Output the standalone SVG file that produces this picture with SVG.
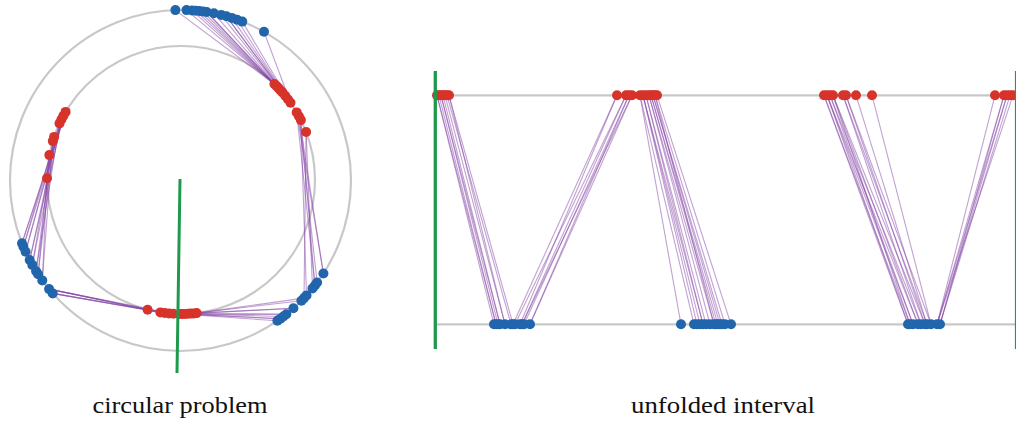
<svg xmlns="http://www.w3.org/2000/svg" width="1016" height="423" viewBox="0 0 1016 423">
<style>
.g{fill:none;stroke:#c8c8c8;stroke-width:2.2}
.c line{stroke:#8444a6;stroke-opacity:.5;stroke-width:1.1}
.r{fill:#d7332a}
.b{fill:#2166ac}
.gr{stroke:#1f9a4c;fill:none}
.t{font-family:"Liberation Serif","DejaVu Serif",serif;font-size:22.5px;fill:#111}
</style>
<rect width="1016" height="423" fill="#fff"/>
<g id="guides">
<circle class="g" cx="180.5" cy="180.5" r="170.5"/>
<circle class="g" cx="181" cy="180" r="134"/>
<line class="g" x1="436" y1="95.3" x2="1016" y2="95.3"/>
<line class="g" x1="436" y1="324.3" x2="1016" y2="324.3"/>
</g>
<g id="connectors" class="c">
<line x1="179.2" y1="314.0" x2="277.4" y2="320.8"/>
<line x1="182.1" y1="314.0" x2="280.4" y2="318.7"/>
<line x1="185.0" y1="313.9" x2="283.4" y2="316.5"/>
<line x1="187.9" y1="313.8" x2="286.3" y2="314.2"/>
<line x1="190.8" y1="313.6" x2="293.4" y2="308.3"/>
<line x1="193.7" y1="313.4" x2="301.4" y2="300.7"/>
<line x1="196.6" y1="313.1" x2="304.0" y2="298.1"/>
<line x1="196.6" y1="313.1" x2="293.4" y2="308.3"/>
<line x1="185.0" y1="313.9" x2="286.3" y2="314.2"/>
<line x1="179.2" y1="314.0" x2="280.4" y2="318.7"/>
<line x1="306.1" y1="132.0" x2="304.0" y2="298.1"/>
<line x1="306.1" y1="132.0" x2="312.5" y2="288.4"/>
<line x1="300.9" y1="120.1" x2="306.5" y2="295.4"/>
<line x1="300.9" y1="120.1" x2="314.9" y2="285.5"/>
<line x1="298.9" y1="116.2" x2="317.1" y2="282.5"/>
<line x1="298.9" y1="116.2" x2="323.4" y2="273.5"/>
<line x1="296.7" y1="112.4" x2="314.9" y2="285.5"/>
<line x1="296.7" y1="112.4" x2="323.4" y2="273.5"/>
<line x1="290.5" y1="102.7" x2="264.0" y2="31.8"/>
<line x1="290.5" y1="102.7" x2="242.3" y2="21.6"/>
<line x1="287.9" y1="99.2" x2="237.1" y2="19.7"/>
<line x1="287.9" y1="99.2" x2="231.8" y2="17.9"/>
<line x1="285.2" y1="95.7" x2="226.5" y2="16.3"/>
<line x1="285.2" y1="95.7" x2="221.2" y2="14.9"/>
<line x1="282.4" y1="92.4" x2="213.9" y2="13.3"/>
<line x1="282.4" y1="92.4" x2="206.7" y2="12.0"/>
<line x1="280.4" y1="90.2" x2="203.0" y2="11.5"/>
<line x1="280.4" y1="90.2" x2="199.3" y2="11.0"/>
<line x1="278.5" y1="88.1" x2="195.7" y2="10.7"/>
<line x1="278.5" y1="88.1" x2="192.0" y2="10.4"/>
<line x1="276.5" y1="86.0" x2="186.5" y2="10.1"/>
<line x1="274.4" y1="84.0" x2="175.4" y2="10.1"/>
<line x1="276.5" y1="86.0" x2="206.7" y2="12.0"/>
<line x1="287.9" y1="99.2" x2="226.5" y2="16.3"/>
<line x1="65.6" y1="111.9" x2="22.0" y2="243.2"/>
<line x1="65.6" y1="111.9" x2="23.4" y2="246.7"/>
<line x1="63.4" y1="115.7" x2="25.6" y2="251.7"/>
<line x1="63.4" y1="115.7" x2="29.7" y2="260.0"/>
<line x1="61.4" y1="119.5" x2="25.6" y2="251.7"/>
<line x1="61.4" y1="119.5" x2="32.3" y2="264.9"/>
<line x1="59.5" y1="123.4" x2="29.7" y2="260.0"/>
<line x1="59.5" y1="123.4" x2="36.1" y2="271.2"/>
<line x1="54.1" y1="136.9" x2="32.3" y2="264.9"/>
<line x1="54.1" y1="136.9" x2="38.1" y2="274.3"/>
<line x1="52.8" y1="141.1" x2="36.1" y2="271.2"/>
<line x1="52.8" y1="141.1" x2="42.3" y2="280.4"/>
<line x1="49.3" y1="155.1" x2="38.1" y2="274.3"/>
<line x1="47.0" y1="178.2" x2="42.3" y2="280.4"/>
<line x1="59.5" y1="123.4" x2="23.4" y2="246.7"/>
<line x1="63.4" y1="115.7" x2="22.0" y2="243.2"/>
<line x1="147.6" y1="309.8" x2="49.1" y2="289.1"/>
<line x1="160.4" y1="312.4" x2="49.1" y2="289.1"/>
<line x1="160.4" y1="312.4" x2="52.7" y2="293.4"/>
<line x1="164.7" y1="313.0" x2="52.7" y2="293.4"/>
<line x1="169.1" y1="313.5" x2="52.7" y2="293.4"/>
<line x1="173.4" y1="313.8" x2="49.1" y2="289.1"/>
<line x1="164.7" y1="313.0" x2="49.1" y2="289.1"/>
<line x1="437" y1="95.3" x2="494" y2="324.3"/>
<line x1="439" y1="95.3" x2="496" y2="324.3"/>
<line x1="441" y1="95.3" x2="498" y2="324.3"/>
<line x1="443" y1="95.3" x2="500" y2="324.3"/>
<line x1="445" y1="95.3" x2="505" y2="324.3"/>
<line x1="447" y1="95.3" x2="511" y2="324.3"/>
<line x1="449" y1="95.3" x2="513" y2="324.3"/>
<line x1="449" y1="95.3" x2="505" y2="324.3"/>
<line x1="441" y1="95.3" x2="500" y2="324.3"/>
<line x1="437" y1="95.3" x2="496" y2="324.3"/>
<line x1="617" y1="95.3" x2="513" y2="324.3"/>
<line x1="617" y1="95.3" x2="520" y2="324.3"/>
<line x1="626" y1="95.3" x2="515" y2="324.3"/>
<line x1="626" y1="95.3" x2="522" y2="324.3"/>
<line x1="629" y1="95.3" x2="524" y2="324.3"/>
<line x1="629" y1="95.3" x2="530" y2="324.3"/>
<line x1="632" y1="95.3" x2="522" y2="324.3"/>
<line x1="632" y1="95.3" x2="530" y2="324.3"/>
<line x1="640" y1="95.3" x2="681" y2="324.3"/>
<line x1="640" y1="95.3" x2="694" y2="324.3"/>
<line x1="643" y1="95.3" x2="697" y2="324.3"/>
<line x1="643" y1="95.3" x2="700" y2="324.3"/>
<line x1="646" y1="95.3" x2="703" y2="324.3"/>
<line x1="646" y1="95.3" x2="706" y2="324.3"/>
<line x1="649" y1="95.3" x2="710" y2="324.3"/>
<line x1="649" y1="95.3" x2="714" y2="324.3"/>
<line x1="651" y1="95.3" x2="716" y2="324.3"/>
<line x1="651" y1="95.3" x2="718" y2="324.3"/>
<line x1="653" y1="95.3" x2="720" y2="324.3"/>
<line x1="653" y1="95.3" x2="722" y2="324.3"/>
<line x1="655" y1="95.3" x2="725" y2="324.3"/>
<line x1="657" y1="95.3" x2="731" y2="324.3"/>
<line x1="655" y1="95.3" x2="714" y2="324.3"/>
<line x1="643" y1="95.3" x2="703" y2="324.3"/>
<line x1="824" y1="95.3" x2="908" y2="324.3"/>
<line x1="824" y1="95.3" x2="910" y2="324.3"/>
<line x1="827" y1="95.3" x2="913" y2="324.3"/>
<line x1="827" y1="95.3" x2="918" y2="324.3"/>
<line x1="830" y1="95.3" x2="913" y2="324.3"/>
<line x1="830" y1="95.3" x2="921" y2="324.3"/>
<line x1="833" y1="95.3" x2="918" y2="324.3"/>
<line x1="833" y1="95.3" x2="925" y2="324.3"/>
<line x1="843" y1="95.3" x2="921" y2="324.3"/>
<line x1="843" y1="95.3" x2="927" y2="324.3"/>
<line x1="846" y1="95.3" x2="925" y2="324.3"/>
<line x1="846" y1="95.3" x2="931" y2="324.3"/>
<line x1="856" y1="95.3" x2="927" y2="324.3"/>
<line x1="872" y1="95.3" x2="931" y2="324.3"/>
<line x1="833" y1="95.3" x2="910" y2="324.3"/>
<line x1="827" y1="95.3" x2="908" y2="324.3"/>
<line x1="995" y1="95.3" x2="937" y2="324.3"/>
<line x1="1004" y1="95.3" x2="937" y2="324.3"/>
<line x1="1004" y1="95.3" x2="940" y2="324.3"/>
<line x1="1007" y1="95.3" x2="940" y2="324.3"/>
<line x1="1010" y1="95.3" x2="940" y2="324.3"/>
<line x1="1013" y1="95.3" x2="937" y2="324.3"/>
<line x1="1007" y1="95.3" x2="937" y2="324.3"/>
</g>
<g id="circle-red" class="r">
<circle cx="179.2" cy="314.0" r="5"/><circle cx="182.1" cy="314.0" r="5"/><circle cx="185.0" cy="313.9" r="5"/><circle cx="187.9" cy="313.8" r="5"/><circle cx="190.8" cy="313.6" r="5"/><circle cx="193.7" cy="313.4" r="5"/><circle cx="196.6" cy="313.1" r="5"/>
<circle cx="306.1" cy="132.0" r="5"/><circle cx="300.9" cy="120.1" r="5"/><circle cx="298.9" cy="116.2" r="5"/><circle cx="296.7" cy="112.4" r="5"/><circle cx="290.5" cy="102.7" r="5"/><circle cx="287.9" cy="99.2" r="5"/><circle cx="285.2" cy="95.7" r="5"/><circle cx="282.4" cy="92.4" r="5"/><circle cx="280.4" cy="90.2" r="5"/><circle cx="278.5" cy="88.1" r="5"/><circle cx="276.5" cy="86.0" r="5"/><circle cx="274.4" cy="84.0" r="5"/>
<circle cx="65.6" cy="111.9" r="5"/><circle cx="63.4" cy="115.7" r="5"/><circle cx="61.4" cy="119.5" r="5"/><circle cx="59.5" cy="123.4" r="5"/><circle cx="54.1" cy="136.9" r="5"/><circle cx="52.8" cy="141.1" r="5"/><circle cx="49.3" cy="155.1" r="5"/><circle cx="47.0" cy="178.2" r="5"/>
<circle cx="147.6" cy="309.8" r="5"/><circle cx="160.4" cy="312.4" r="5"/><circle cx="164.7" cy="313.0" r="5"/><circle cx="169.1" cy="313.5" r="5"/><circle cx="173.4" cy="313.8" r="5"/>
</g>
<g id="circle-blue" class="b">
<circle cx="277.4" cy="320.8" r="5"/><circle cx="280.4" cy="318.7" r="5"/><circle cx="283.4" cy="316.5" r="5"/><circle cx="286.3" cy="314.2" r="5"/><circle cx="293.4" cy="308.3" r="5"/><circle cx="301.4" cy="300.7" r="5"/><circle cx="304.0" cy="298.1" r="5"/><circle cx="306.5" cy="295.4" r="5"/><circle cx="312.5" cy="288.4" r="5"/><circle cx="314.9" cy="285.5" r="5"/><circle cx="317.1" cy="282.5" r="5"/><circle cx="323.4" cy="273.5" r="5"/>
<circle cx="264.0" cy="31.8" r="5"/><circle cx="242.3" cy="21.6" r="5"/><circle cx="237.1" cy="19.7" r="5"/><circle cx="231.8" cy="17.9" r="5"/><circle cx="226.5" cy="16.3" r="5"/><circle cx="221.2" cy="14.9" r="5"/><circle cx="213.9" cy="13.3" r="5"/><circle cx="206.7" cy="12.0" r="5"/><circle cx="203.0" cy="11.5" r="5"/><circle cx="199.3" cy="11.0" r="5"/><circle cx="195.7" cy="10.7" r="5"/><circle cx="192.0" cy="10.4" r="5"/><circle cx="186.5" cy="10.1" r="5"/><circle cx="175.4" cy="10.1" r="5"/>
<circle cx="22.0" cy="243.2" r="5"/><circle cx="23.4" cy="246.7" r="5"/><circle cx="25.6" cy="251.7" r="5"/><circle cx="29.7" cy="260.0" r="5"/><circle cx="32.3" cy="264.9" r="5"/><circle cx="36.1" cy="271.2" r="5"/><circle cx="38.1" cy="274.3" r="5"/><circle cx="42.3" cy="280.4" r="5"/><circle cx="49.1" cy="289.1" r="5"/><circle cx="52.7" cy="293.4" r="5"/>
</g>
<g id="interval-red" class="r">
<circle cx="437" cy="95.3" r="5"/><circle cx="439" cy="95.3" r="5"/><circle cx="441" cy="95.3" r="5"/><circle cx="443" cy="95.3" r="5"/><circle cx="445" cy="95.3" r="5"/><circle cx="447" cy="95.3" r="5"/><circle cx="449" cy="95.3" r="5"/>
<circle cx="617" cy="95.3" r="5"/><circle cx="626" cy="95.3" r="5"/><circle cx="629" cy="95.3" r="5"/><circle cx="632" cy="95.3" r="5"/><circle cx="640" cy="95.3" r="5"/><circle cx="643" cy="95.3" r="5"/><circle cx="646" cy="95.3" r="5"/><circle cx="649" cy="95.3" r="5"/><circle cx="651" cy="95.3" r="5"/><circle cx="653" cy="95.3" r="5"/><circle cx="655" cy="95.3" r="5"/><circle cx="657" cy="95.3" r="5"/>
<circle cx="824" cy="95.3" r="5"/><circle cx="827" cy="95.3" r="5"/><circle cx="830" cy="95.3" r="5"/><circle cx="833" cy="95.3" r="5"/><circle cx="843" cy="95.3" r="5"/><circle cx="846" cy="95.3" r="5"/><circle cx="856" cy="95.3" r="5"/><circle cx="872" cy="95.3" r="5"/>
<circle cx="995" cy="95.3" r="5"/><circle cx="1004" cy="95.3" r="5"/><circle cx="1007" cy="95.3" r="5"/><circle cx="1010" cy="95.3" r="5"/><circle cx="1013" cy="95.3" r="5"/>
</g>
<g id="interval-blue" class="b">
<circle cx="494" cy="324.3" r="5"/><circle cx="496" cy="324.3" r="5"/><circle cx="498" cy="324.3" r="5"/><circle cx="500" cy="324.3" r="5"/><circle cx="505" cy="324.3" r="5"/><circle cx="511" cy="324.3" r="5"/><circle cx="513" cy="324.3" r="5"/><circle cx="515" cy="324.3" r="5"/><circle cx="520" cy="324.3" r="5"/><circle cx="522" cy="324.3" r="5"/><circle cx="524" cy="324.3" r="5"/><circle cx="530" cy="324.3" r="5"/>
<circle cx="681" cy="324.3" r="5"/><circle cx="694" cy="324.3" r="5"/><circle cx="697" cy="324.3" r="5"/><circle cx="700" cy="324.3" r="5"/><circle cx="703" cy="324.3" r="5"/><circle cx="706" cy="324.3" r="5"/><circle cx="710" cy="324.3" r="5"/><circle cx="714" cy="324.3" r="5"/><circle cx="716" cy="324.3" r="5"/><circle cx="718" cy="324.3" r="5"/><circle cx="720" cy="324.3" r="5"/><circle cx="722" cy="324.3" r="5"/><circle cx="725" cy="324.3" r="5"/><circle cx="731" cy="324.3" r="5"/>
<circle cx="908" cy="324.3" r="5"/><circle cx="910" cy="324.3" r="5"/><circle cx="913" cy="324.3" r="5"/><circle cx="918" cy="324.3" r="5"/><circle cx="921" cy="324.3" r="5"/><circle cx="925" cy="324.3" r="5"/><circle cx="927" cy="324.3" r="5"/><circle cx="931" cy="324.3" r="5"/><circle cx="937" cy="324.3" r="5"/><circle cx="940" cy="324.3" r="5"/>
</g>
<g id="cuts">
<line class="gr" x1="180" y1="179" x2="177" y2="373" stroke-width="3"/>
<line class="gr" x1="435.3" y1="71" x2="435.3" y2="349" stroke-width="3.3"/>
<line class="gr" x1="1015.5" y1="71" x2="1015.5" y2="349" stroke-width="1.2"/>
</g>
<g id="labels" class="t">
<text x="92.5" y="413.3" textLength="175" lengthAdjust="spacingAndGlyphs">circular problem</text>
<text x="631" y="413.3" textLength="184" lengthAdjust="spacingAndGlyphs">unfolded interval</text>
</g>
</svg>
